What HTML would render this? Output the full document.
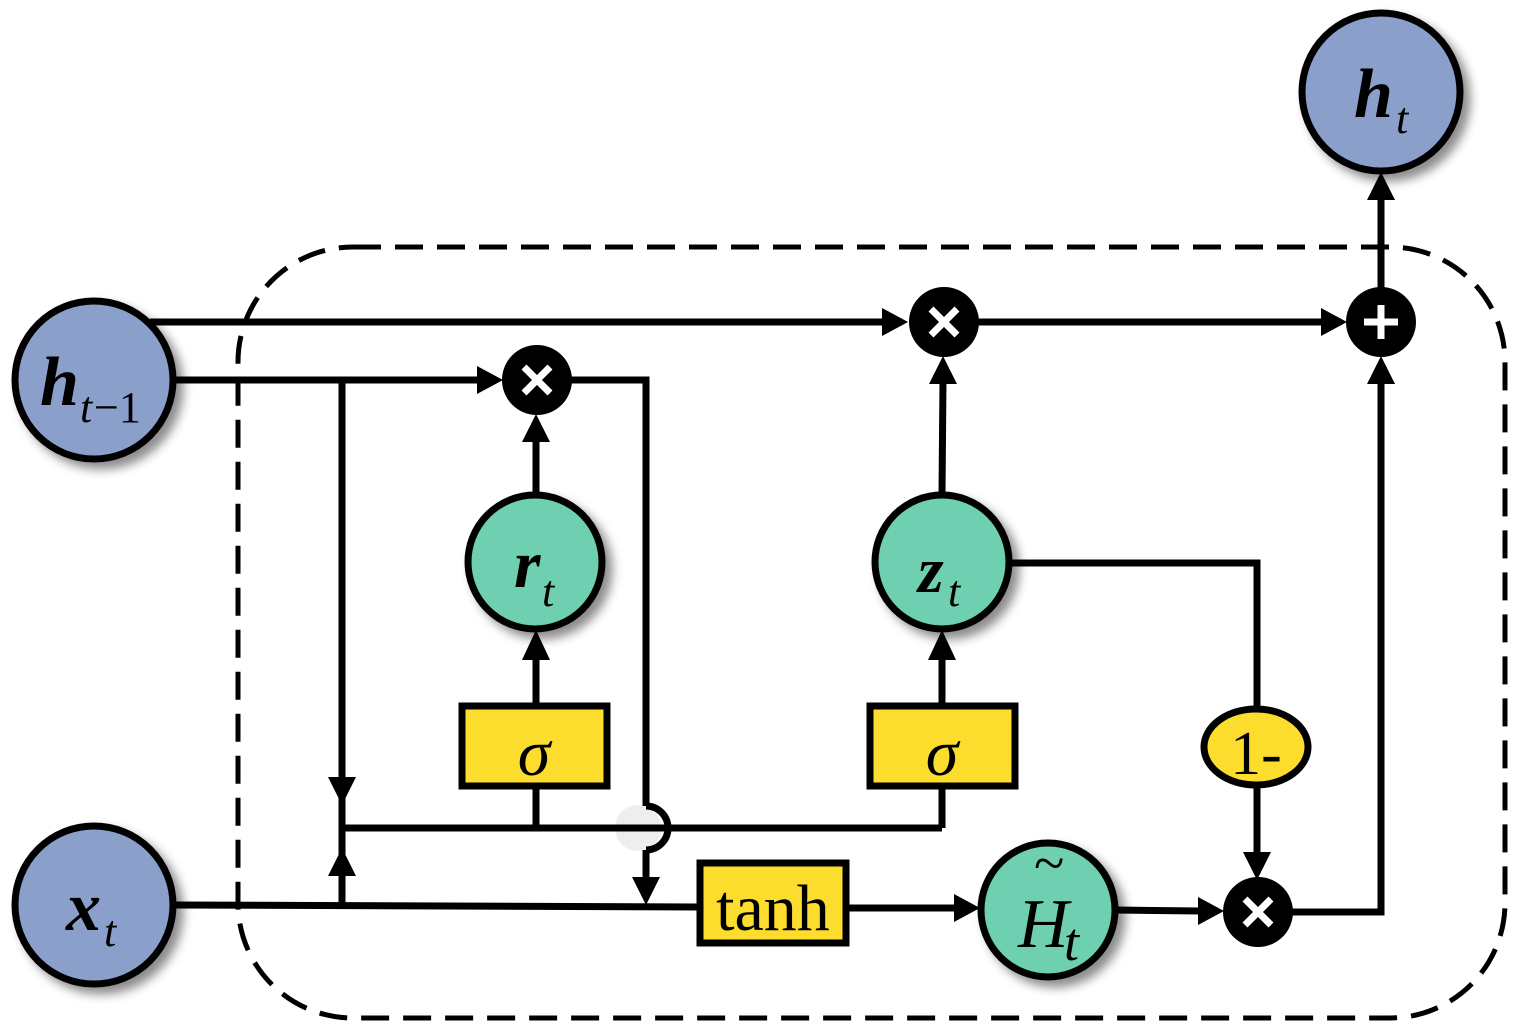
<!DOCTYPE html>
<html><head><meta charset="utf-8"><style>html,body{margin:0;padding:0;background:#fff}svg{display:block}</style></head><body>
<svg width="1522" height="1036" viewBox="0 0 1522 1036" xmlns="http://www.w3.org/2000/svg">
<defs>
<filter id="sh" x="-30%" y="-30%" width="170%" height="170%"><feDropShadow dx="7" dy="7" stdDeviation="5" flood-color="#000" flood-opacity="0.45"/></filter>
</defs>
<circle cx="638" cy="828" r="23" fill="#eee"/>
<g fill="none" stroke="#000" stroke-width="7">
<rect x="238" y="247" width="1267" height="771" rx="115" ry="115" stroke-width="5" stroke-dasharray="28,14"/>
<line x1="150" y1="322" x2="900" y2="322"/>
<line x1="978" y1="322" x2="1340" y2="322"/>
<line x1="1381" y1="290" x2="1381" y2="200"/>
<line x1="172" y1="380" x2="495" y2="380"/>
<line x1="342" y1="380" x2="342" y2="905"/>
<line x1="175" y1="905" x2="699" y2="907"/>
<line x1="342" y1="828" x2="942" y2="828"/>
<line x1="536" y1="828" x2="536" y2="786"/>
<line x1="942" y1="828" x2="942" y2="786"/>
<line x1="536" y1="706" x2="536" y2="660"/>
<line x1="536" y1="494" x2="536" y2="440"/>
<line x1="942" y1="706" x2="942" y2="660"/>
<line x1="942" y1="494" x2="943" y2="380"/>
<path d="M570 380 H646 V806"/>
<path d="M646 850 V880"/>
<path d="M646 806 A22 22 0 0 1 646 850"/>
<line x1="846" y1="908" x2="958" y2="908"/>
<line x1="1116" y1="910" x2="1200" y2="911"/>
<path d="M1292 912 H1381 V380"/>
<path d="M1010 563 H1257 V708"/>
<line x1="1257" y1="787" x2="1257" y2="855"/>
</g>
<g fill="#000">
<polygon points="908,322 882,308 882,336"/>
<polygon points="1347,322 1321,308 1321,336"/>
<polygon points="1381,172 1367,200 1395,200"/>
<polygon points="503,380 477,366 477,394"/>
<polygon points="342,805 328,777 356,777"/>
<polygon points="342,848 328,876 356,876"/>
<polygon points="536,630 522,660 550,660"/>
<polygon points="536,414 522,442 550,442"/>
<polygon points="942,630 928,660 956,660"/>
<polygon points="943,356 929,384 957,384"/>
<polygon points="646,905 632,877 660,877"/>
<polygon points="980,908 954,894 954,922"/>
<polygon points="1224,911 1198,897 1198,925"/>
<polygon points="1381,356 1367,384 1395,384"/>
<polygon points="1257,880 1243,852 1271,852"/>
</g>
<g stroke="#000" stroke-width="7" filter="url(#sh)">
<circle cx="94" cy="380" r="79" fill="#8aa0cb"/>
<circle cx="94" cy="905" r="79" fill="#8aa0cb"/>
<circle cx="1381" cy="92" r="79" fill="#8aa0cb"/>
<circle cx="535" cy="562" r="67" fill="#6ed0b0"/>
<circle cx="942" cy="562" r="67" fill="#6ed0b0"/>
<circle cx="1048" cy="910" r="67" fill="#6ed0b0"/>
</g>
<g fill="#000">
<circle cx="537" cy="380" r="35"/>
<circle cx="944" cy="322" r="35"/>
<circle cx="1258" cy="912" r="35"/>
<circle cx="1381" cy="322" r="35"/>
</g>
<g stroke="#fff" stroke-width="7">
<path d="M524 367 L550 393 M550 367 L524 393"/>
<path d="M931 309 L957 335 M957 309 L931 335"/>
<path d="M1245 899 L1271 925 M1271 899 L1245 925"/>
<path d="M1381 305 V339 M1364 322 H1398"/>
</g>
<g fill="#fcdc2c" stroke="#000" stroke-width="7">
<rect x="462" y="706" width="145" height="80"/>
<rect x="870" y="706" width="145" height="80"/>
<rect x="700" y="863" width="146" height="80"/>
<ellipse cx="1256" cy="747" rx="52" ry="38"/>
</g>
<g font-family="Liberation Serif, serif" fill="#000">
<text x="40" y="405" font-size="70" font-weight="bold" font-style="italic">h</text>
<text x="80" y="422" font-size="44" font-style="italic">t</text>
<text x="94" y="422" font-size="44">−1</text>
<text x="66" y="930" font-size="70" font-weight="bold" font-style="italic">x</text>
<text x="104" y="946" font-size="44" font-style="italic">t</text>
<text x="1354" y="117" font-size="70" font-weight="bold" font-style="italic">h</text>
<text x="1396" y="133" font-size="44" font-style="italic">t</text>
<text x="514" y="587" font-size="68" font-weight="bold" font-style="italic">r</text>
<text x="542" y="606" font-size="44" font-style="italic">t</text>
<text x="918" y="592" font-size="66" font-weight="bold" font-style="italic">z</text>
<text x="948" y="606" font-size="44" font-style="italic">t</text>
<text x="1018" y="947" font-size="70" font-style="italic">H</text>
<text x="1064" y="960" font-size="54" font-style="italic">t</text>
<text x="1034" y="882" font-size="56">~</text>
<text x="534" y="775" font-size="66" font-style="italic" text-anchor="middle">σ</text>
<text x="942" y="775" font-size="66" font-style="italic" text-anchor="middle">σ</text>
<text x="773" y="930" font-size="66" text-anchor="middle">tanh</text>
<text x="1256" y="774" font-size="62" text-anchor="middle">1-</text>
</g>
</svg>
</body></html>
